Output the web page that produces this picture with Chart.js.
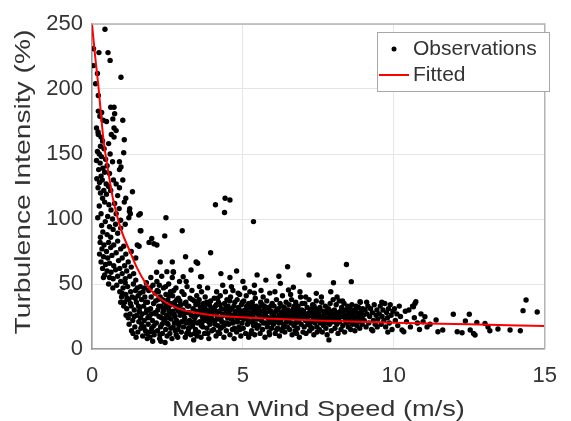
<!DOCTYPE html>
<html>
<head>
<meta charset="utf-8">
<script src="https://cdn.jsdelivr.net/npm/chart.js@4/dist/chart.umd.min.js"></script>
<style>
  html, body { margin: 0; padding: 0; background: #fff; }
  #chart { display: block; }
</style>
</head>
<body>
<canvas id="chart" width="571" height="421"></canvas>
<script>
// tick labels
const xTicks = [0, 5, 10, 15];
const yTicks = [0, 50, 100, 150, 200, 250];

// observations: [mean wind speed (m/s), turbulence intensity (%)]
const observations = [
  // top of the left column
  [0.43,246],[0.05,231],[0.23,228],[0.53,228],[0.6,222],[0.05,218],[0.18,212],[0.96,209],[0.12,204],[0.21,195],
  [0.62,186],[0.73,186],[0.21,183],[0.32,182],[0.75,181],[0.26,179],[0.37,176],[0.48,175],[0.69,177],[1.02,176],
  [0.15,170],[0.73,170],[0.8,168],[0.21,165],[0.3,163],[0.64,165],[0.73,163],[1.07,161],[1.05,151],[0.91,144],
  [0.96,140],[0.91,138],[1.02,130],[0.91,124],[1.34,121],[1.12,116],[1.07,113],[1.25,108],[1.27,104],[1.22,101],
  [1.55,103],[0.32,95],[1.6,91],[1.98,85],
  [0.2,167],[0.35,160],[0.55,158],[0.28,156],[0.18,152],[0.24,150],[0.31,148],[0.4,154],[0.45,146],[0.15,145],
  [0.27,143],[0.5,141],[0.36,139],[0.6,150],[0.68,144],[0.22,138],[0.42,136],[0.58,135],[0.3,133],[0.16,131],
  [0.25,128],[0.34,130],[0.47,127],[0.55,125],[0.2,124],[0.39,122],[0.62,122],[0.71,130],[0.28,120],[0.48,119],
  [0.8,127],[0.85,118],[0.35,116],[0.42,113],[0.56,111],[0.24,110],[0.63,107],[0.75,112],[0.3,104],[0.52,102],
  [0.68,100],[0.9,108],[0.44,98],[0.19,101],[0.8,104],[0.95,99],[0.58,94],[0.7,92],[0.36,90],[0.5,88],
  [0.85,89],[0.62,86],[0.28,86],[0.95,93],[1.1,96],[0.78,96],
  // lower part of the left column
  [0.27,82],[0.4,80],[0.55,82],[0.33,77],[0.48,75],[0.62,78],[0.72,80],[0.85,83],[0.25,73],[0.38,71],
  [0.52,70],[0.66,72],[0.8,74],[0.95,77],[1.05,79],[0.3,67],[0.45,65],[0.58,66],[0.72,64],[0.88,68],
  [1.0,70],[1.12,73],[0.35,62],[0.5,60],[0.63,59],[0.78,61],[0.92,62],[1.08,64],[1.2,67],[0.42,57],
  [0.58,55],[0.7,54],[0.85,56],[1.0,58],[1.15,60],[1.3,63],[0.38,55],[0.69,47],[0.55,50],[0.82,49],
  [0.95,52],[1.1,54],[1.25,56],[1.38,58],[1.45,70],[1.3,75],[1.5,80],[1.56,79],[1.62,91],[1.24,106],
  [1.89,82],[2.05,81],[2.15,80],[2.45,101],[1.6,104],[2.41,87],
  // dense mass, 0.9 - 3 m/s
  [0.92,44],[0.98,40],[1.03,47],[1.08,36],[1.12,42],[1.15,31],[1.18,48],[1.22,38],[1.26,27],[1.28,44],
  [0.95,36],[1.05,33],[1.2,24],[1.3,33],[1.1,51],[1.0,43],
  [1.33,40],[1.35,22],[1.37,50],[1.4,30],[1.42,17],[1.44,45],[1.47,36],[1.49,26],[1.52,13],[1.53,41],
  [1.55,21],[1.58,32],[1.6,48],[1.62,16],[1.64,38],[1.66,27],[1.68,10],[1.69,44],[1.36,12],[1.45,53],
  [1.57,29],[1.65,19],[1.5,47],[1.4,25],
  [1.13,26],[1.23,19],[1.31,14],[1.46,9],[1.54,33],[1.61,24],[1.72,17],[1.81,30],[1.89,13],[1.97,27],
  [1.43,39],[1.27,35],[1.16,39],[1.59,43],[1.85,24],[1.93,47],
  [1.71,33],[1.73,22],[1.75,40],[1.77,14],[1.79,28],[1.8,51],[1.82,12],[1.84,36],[1.86,19],[1.88,45],
  [1.9,25],[1.92,9],[1.94,31],[1.96,40],[1.98,16],[2.0,22],[2.02,49],[2.04,35],[2.06,11],[2.08,28],
  [2.09,43],[1.74,47],[1.83,8],[1.95,55],[2.01,6],[1.78,36],[1.87,30],[2.05,18],
  [2.11,37],[2.13,20],[2.15,52],[2.17,14],[2.18,30],[2.2,44],[2.22,25],[2.24,8],[2.26,40],[2.27,17],
  [2.29,33],[2.31,56],[2.33,12],[2.35,28],[2.37,47],[2.38,21],[2.4,36],[2.42,5],[2.44,15],[2.45,42],
  [2.47,26],[2.49,10],[2.14,59],[2.23,49],[2.36,31],[2.46,33],[2.28,6],[2.19,38],[2.41,23],[2.32,19],
  [2.03,13],[2.12,27],[2.21,33],[2.3,24],[2.39,30],[2.48,20],[2.55,24],[2.64,27],[2.73,20],[2.81,38],
  [2.89,33],[2.95,28],[2.25,11],[2.44,48],[2.6,35],[2.77,33],[2.85,15],[2.16,45],[2.34,38],[2.71,45],
  [2.51,38],[2.52,19],[2.54,50],[2.56,29],[2.58,12],[2.6,44],[2.62,23],[2.63,34],[2.65,8],[2.67,41],
  [2.69,17],[2.7,59],[2.72,27],[2.74,36],[2.76,14],[2.78,47],[2.8,22],[2.82,31],[2.84,9],[2.86,39],
  [2.88,18],[2.9,52],[2.92,26],[2.94,34],[2.96,13],[2.98,44],[2.53,32],[2.61,16],[2.68,29],[2.75,25],
  [2.83,20],[2.91,37],[2.57,41],[2.66,55],[2.79,11],[2.87,29],[2.97,21],
  // dense mass, 3 - 6 m/s
  [3.01,30],[3.03,17],[3.05,42],[3.07,24],[3.09,9],[3.11,36],[3.13,20],[3.15,48],[3.17,28],[3.19,14],
  [3.21,33],[3.23,22],[3.25,39],[3.27,11],[3.29,26],[3.31,45],[3.33,18],[3.35,31],[3.37,7],[3.39,37],
  [3.41,24],[3.43,15],[3.45,29],[3.47,41],[3.49,20],[3.12,52],[3.2,16],[3.36,25],[3.44,34],[3.08,35],
  [3.28,19],[3.4,12],
  [3.04,27],[3.1,21],[3.16,33],[3.22,28],[3.26,17],[3.32,38],[3.38,21],[3.46,26],[3.52,35],[3.58,29],
  [3.64,20],[3.7,31],[3.76,26],[3.82,23],[3.88,29],[3.94,32],[3.98,22],[3.14,12],[3.48,10],[3.84,12],
  [3.51,27],[3.53,13],[3.55,38],[3.57,21],[3.59,32],[3.61,9],[3.63,44],[3.65,25],[3.67,17],[3.69,35],
  [3.71,28],[3.73,12],[3.75,40],[3.77,22],[3.79,30],[3.81,16],[3.83,47],[3.85,26],[3.87,8],[3.89,34],
  [3.91,19],[3.93,37],[3.95,24],[3.97,14],[3.99,31],[3.56,48],[3.68,23],[3.8,36],[3.92,29],[3.62,18],
  [3.74,33],[3.86,21],
  [4.01,27],[4.03,15],[4.05,39],[4.07,22],[4.09,33],[4.11,10],[4.13,44],[4.15,25],[4.17,18],[4.19,36],
  [4.21,29],[4.23,12],[4.25,41],[4.27,23],[4.29,31],[4.31,17],[4.33,49],[4.35,26],[4.37,9],[4.39,35],
  [4.41,20],[4.43,30],[4.45,14],[4.47,38],[4.49,24],[4.06,30],[4.18,13],[4.3,21],[4.42,44],[4.12,34],
  [4.26,16],[4.46,28],
  [4.02,31],[4.08,19],[4.14,28],[4.2,23],[4.24,34],[4.32,27],[4.38,18],[4.44,33],[4.48,20],[4.52,26],
  [4.58,30],[4.64,24],[4.7,33],[4.74,28],[4.82,21],[4.88,30],[4.94,25],[4.98,36],[4.16,39],[4.72,16],
  [4.51,33],[4.53,19],[4.55,27],[4.57,11],[4.59,40],[4.61,23],[4.63,31],[4.65,15],[4.67,45],[4.69,26],
  [4.71,8],[4.73,36],[4.75,21],[4.77,29],[4.79,13],[4.81,38],[4.83,24],[4.85,32],[4.87,17],[4.89,42],
  [4.91,27],[4.93,10],[4.95,34],[4.97,20],[4.99,29],[4.56,37],[4.66,20],[4.78,25],[4.9,15],[4.62,48],
  [4.84,43],[4.96,24],
  [5.01,16],[5.03,37],[5.05,23],[5.07,30],[5.09,12],[5.11,41],[5.13,26],[5.15,19],[5.17,34],[5.19,9],
  [5.21,28],[5.23,44],[5.25,21],[5.27,32],[5.29,14],[5.31,36],[5.33,25],[5.35,18],[5.37,30],[5.39,11],
  [5.41,39],[5.43,23],[5.45,33],[5.47,16],[5.49,27],[5.06,47],[5.18,22],[5.3,28],[5.42,19],[5.12,33],
  [5.38,43],
  [5.02,28],[5.08,25],[5.14,30],[5.2,35],[5.24,26],[5.32,21],[5.36,33],[5.44,28],[5.48,23],[5.52,29],
  [5.58,24],[5.62,33],[5.68,20],[5.74,27],[5.78,32],[5.82,29],[5.86,23],[5.92,33],[5.98,20],[5.26,12],
  [5.51,31],[5.53,18],[5.55,26],[5.57,12],[5.59,36],[5.61,22],[5.63,29],[5.65,15],[5.67,40],[5.69,25],
  [5.71,33],[5.73,9],[5.75,20],[5.77,28],[5.79,37],[5.81,17],[5.83,24],[5.85,31],[5.87,13],[5.89,43],
  [5.91,22],[5.93,29],[5.95,16],[5.97,35],[5.99,25],[5.6,45],[5.72,30],[5.84,20],[5.96,27],[5.64,34],
  [5.88,11],
  // 6 - 10 m/s
  [6.01,19],[6.03,33],[6.05,24],[6.07,12],[6.09,29],[6.11,38],[6.13,21],[6.15,16],[6.17,31],[6.19,26],
  [6.21,10],[6.23,35],[6.25,22],[6.27,28],[6.29,14],[6.31,41],[6.33,25],[6.35,19],[6.37,32],[6.39,13],
  [6.41,27],[6.43,36],[6.45,21],[6.47,17],[6.49,30],[6.06,44],[6.2,20],[6.34,29],[6.44,24],[6.12,15],
  [6.02,27],[6.08,22],[6.14,30],[6.22,25],[6.28,33],[6.36,24],[6.42,30],[6.48,25],[6.54,29],[6.62,24],
  [6.68,27],[6.74,20],[6.82,30],[6.88,24],[6.94,27],[6.32,16],[6.78,12],
  [6.51,22],[6.53,34],[6.55,15],[6.57,27],[6.59,20],[6.61,38],[6.63,11],[6.65,25],[6.67,31],[6.69,18],
  [6.71,29],[6.73,14],[6.75,36],[6.77,23],[6.79,26],[6.81,16],[6.83,33],[6.85,21],[6.87,9],[6.89,28],
  [6.91,40],[6.93,19],[6.95,30],[6.97,24],[6.99,13],[6.58,42],[6.7,33],[6.84,27],[6.96,35],
  [7.01,29],[7.03,17],[7.05,35],[7.07,22],[7.09,12],[7.11,27],[7.13,32],[7.15,19],[7.17,25],[7.19,38],
  [7.21,14],[7.23,30],[7.25,21],[7.27,26],[7.29,16],[7.31,34],[7.33,23],[7.35,11],[7.37,28],[7.39,20],
  [7.41,31],[7.43,37],[7.45,17],[7.47,25],[7.49,22],[7.08,40],[7.22,18],[7.36,33],[7.46,13],
  [7.04,24],[7.12,22],[7.2,28],[7.28,31],[7.34,26],[7.42,22],[7.5,30],[7.56,25],[7.64,22],[7.72,28],
  [7.8,30],[7.88,23],[7.96,25],
  [7.51,27],[7.53,15],[7.55,32],[7.57,20],[7.59,24],[7.61,36],[7.63,13],[7.65,29],[7.67,18],[7.69,26],
  [7.71,22],[7.73,33],[7.75,16],[7.77,28],[7.79,11],[7.81,24],[7.83,31],[7.85,7],[7.87,19],[7.89,35],
  [7.91,25],[7.93,14],[7.95,29],[7.97,21],[7.99,38],[7.6,40],[7.74,20],[7.9,27],
  [8.01,23],[8.03,30],[8.05,16],[8.07,26],[8.09,34],[8.11,19],[8.13,28],[8.15,12],[8.17,24],[8.19,37],
  [8.21,21],[8.23,29],[8.25,15],[8.27,32],[8.29,25],[8.31,18],[8.33,27],[8.35,35],[8.37,13],[8.39,22],
  [8.41,30],[8.43,20],[8.45,26],[8.47,33],[8.49,17],[8.12,40],[8.3,37],
  [8.04,27],[8.14,23],[8.22,25],[8.32,30],[8.42,25],[8.52,24],[8.62,28],[8.72,21],[8.82,27],[8.92,26],
  [8.51,28],[8.53,21],[8.55,31],[8.57,15],[8.59,25],[8.61,34],[8.63,19],[8.65,27],[8.67,22],[8.69,30],
  [8.71,14],[8.73,24],[8.75,33],[8.77,18],[8.79,28],[8.81,21],[8.83,32],[8.85,25],[8.87,16],[8.89,36],
  [8.91,23],[8.93,29],[8.95,19],[8.97,31],[8.99,26],
  [9.02,22],[9.05,30],[9.08,17],[9.11,27],[9.14,33],[9.17,20],[9.2,25],[9.23,31],[9.26,15],[9.29,28],
  [9.32,22],[9.35,34],[9.38,19],[9.41,26],[9.44,30],[9.47,23],[9.1,36],[9.3,14],[9.45,17],
  [9.52,27],[9.55,33],[9.58,19],[9.61,25],[9.64,30],[9.67,22],[9.7,35],[9.73,17],[9.76,28],[9.79,24],
  [9.82,31],[9.85,20],[9.88,34],[9.91,26],[9.94,15],[9.97,29],[9.6,36],[9.8,13],
  // 10 - 15 m/s
  [10.02,31],[10.05,22],[10.1,27],[10.13,18],[10.18,33],[10.22,25],[10.27,14.6],[10.33,13.3],[10.38,29],[10.42,21],
  [10.5,30],[10.55,17],[10.62,33],[10.65,32.5],[10.7,35],[10.73,36.4],[10.68,24],[10.78,20],[10.85,15],[10.9,27],
  [10.97,21],[11.03,24.8],[11.1,17],[11.2,19],[11.4,22.3],[11.46,13.3],[11.62,14.6],[11.97,26.7],[12.1,13.3],[12.26,12.5],
  [12.37,21.5],[12.5,26.7],[12.53,14.6],[12.64,12],[12.69,10.8],[12.75,20.5],[13.02,19.7],[13.12,17],[13.18,14],[13.45,15.4],
  [13.85,14.6],[14.19,14],[14.28,29.5],[14.38,37.7],[14.75,28.5],
  // scattered points above the mass
  [4.09,111],[4.41,116],[4.57,114.6],[4.39,105],[5.35,98],[2.99,91],[3.93,74],[2.66,67],[3.1,71],[3.45,67],
  [3.5,66],[2.69,59.5],[3.28,60.8],[4.27,58],[4.79,60],[4.57,55],[5.0,52],[5.76,53],[5.47,57],[5.38,49],
  [3.6,55.6],[6.48,63.3],[8.43,65],[6.19,56],[6.24,50.5],[7.19,57],[8.0,51],[8.59,51.8],[6.51,45.4],[6.67,47.5],
  [6.89,44],[7.43,42.8],[7.91,44],[2.26,67],[2.48,59.5],[3.02,55.6],[3.63,55.6],[8.88,36.4]
];

// fitted curve
const fitSpeed = [0, 0.1, 0.2, 0.38, 0.5, 0.7, 0.96, 1.24, 1.5, 1.78, 2.0, 2.32, 2.85, 3.4, 3.93, 5.0, 6.0, 7.7, 10, 12.5, 15];
const fitIntensity = [250, 226, 205, 161, 142, 115, 92, 76, 62, 50.5, 44, 37.7, 31.3, 28, 26.2, 24.4, 23.2, 21.8, 20.2, 19, 17.7];

const textColor = '#333333';
Chart.defaults.font.family = "'Liberation Sans', Arial, sans-serif";
Chart.defaults.color = textColor;

// top and right sides of the box
const boxFrame = {
  id: 'boxFrame',
  afterDatasetsDraw(chart) {
    const { ctx, chartArea: a } = chart;
    ctx.save();
    ctx.strokeStyle = '#b4b4b4';
    ctx.lineWidth = 1.5;
    ctx.beginPath();
    ctx.moveTo(a.left, a.top);
    ctx.lineTo(a.right, a.top);
    ctx.lineTo(a.right, a.bottom);
    ctx.stroke();
    ctx.restore();
  }
};

// axis titles, drawn a bit wider than the font like in the picture
const axisTitles = {
  id: 'axisTitles',
  afterDraw(chart) {
    const { ctx, chartArea: a } = chart;
    const draw = (text, x, y, rot, width) => {
      ctx.save();
      ctx.font = "22px 'Liberation Sans', Arial, sans-serif";
      ctx.fillStyle = textColor;
      ctx.textAlign = 'center';
      ctx.textBaseline = 'alphabetic';
      ctx.translate(x, y);
      ctx.rotate(rot);
      ctx.scale(width / ctx.measureText(text).width, 1);
      ctx.fillText(text, 0, 0);
      ctx.restore();
    };
    draw('Mean Wind Speed (m/s)', (a.left + a.right) / 2, 416, 0, 293);
    draw('Turbulence Intensity (%)', 30, 182, -Math.PI / 2, 305);
  }
};

// legend with a box, top right
const boxLegend = {
  id: 'boxLegend',
  afterDraw(chart) {
    const { ctx } = chart;
    const obs = chart.data.datasets[0];
    const fit = chart.data.datasets[1];
    ctx.save();
    ctx.fillStyle = '#ffffff';
    ctx.fillRect(377, 32, 172, 59);
    ctx.strokeStyle = '#a8a8a8';
    ctx.lineWidth = 1;
    ctx.strokeRect(377.5, 32.5, 172, 59);
    ctx.fillStyle = obs.backgroundColor;
    ctx.beginPath();
    ctx.arc(394, 49, 2.5, 0, Math.PI * 2);
    ctx.fill();
    ctx.strokeStyle = fit.borderColor;
    ctx.lineWidth = 2;
    ctx.beginPath();
    ctx.moveTo(379, 75);
    ctx.lineTo(409, 75);
    ctx.stroke();
    ctx.font = "21px 'Liberation Sans', Arial, sans-serif";
    ctx.fillStyle = textColor;
    ctx.textBaseline = 'middle';
    ctx.fillText(obs.label, 413, 49);
    ctx.fillText(fit.label, 413, 75);
    ctx.restore();
  }
};

new Chart(document.getElementById('chart'), {
  type: 'scatter',
  data: {
    datasets: [
      {
        label: 'Observations',
        data: observations.map(([x, y]) => ({ x, y })),
        backgroundColor: '#000000',
        borderWidth: 0,
        pointRadius: 2.7,
        order: 1
      },
      {
        type: 'line',
        label: 'Fitted',
        data: fitSpeed.map((x, i) => ({ x, y: fitIntensity[i] })),
        borderColor: '#ff0000',
        borderWidth: 2,
        pointRadius: 0,
        cubicInterpolationMode: 'monotone',
        fill: false,
        order: 0
      }
    ]
  },
  options: {
    responsive: false,
    animation: false,
    layout: { padding: { left: 0, right: 16, top: 24, bottom: 0 } },
    plugins: { legend: { display: false }, tooltip: { enabled: false } },
    scales: {
      x: {
        type: 'linear',
        min: 0,
        max: 15,
        afterBuildTicks: s => { s.ticks = xTicks.map(v => ({ value: v })); },
        afterFit: s => { s.height = 72; },
        ticks: { font: { size: 22 }, padding: 14, color: textColor },
        grid: { color: '#e6e6e6', drawTicks: false },
        border: { color: '#9a9a9a', width: 1.5 }
      },
      y: {
        type: 'linear',
        min: 0,
        max: 250,
        afterBuildTicks: s => { s.ticks = yTicks.map(v => ({ value: v })); },
        afterFit: s => { s.width = 92; },
        ticks: { font: { size: 22 }, padding: 9, color: textColor },
        grid: { color: '#e6e6e6', drawTicks: false },
        border: { color: '#9a9a9a', width: 1.5 }
      }
    }
  },
  plugins: [boxFrame, axisTitles, boxLegend]
});
</script>
</body>
</html>
